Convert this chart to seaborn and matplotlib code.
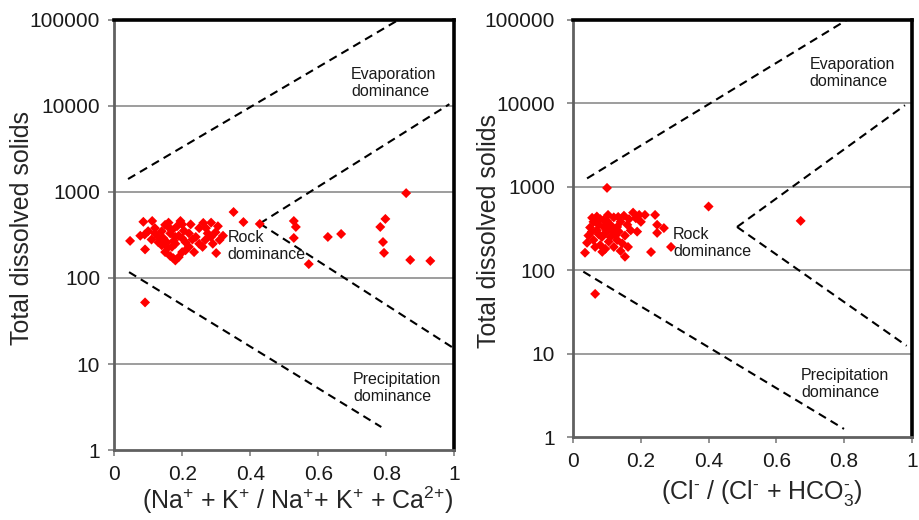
import matplotlib
matplotlib.use('Agg')
import matplotlib.pyplot as plt
from matplotlib.ticker import FixedLocator, FixedFormatter
import seaborn as sns
import numpy as np
import pandas as pd

# ----------------------------------------------------------------------------
# data
# ----------------------------------------------------------------------------
# left panel: Na+K / (Na+K+Ca) ratio vs TDS
cation_ratio = [0.047, 0.077, 0.086, 0.112, 0.091, 0.10, 0.12, 0.13, 0.15, 0.16,
                0.165, 0.17, 0.175, 0.18, 0.185, 0.19, 0.195, 0.20, 0.205, 0.21,
                0.22, 0.225, 0.235, 0.24, 0.25, 0.262, 0.268, 0.275, 0.285, 0.298,
                0.30, 0.31, 0.305, 0.14, 0.15, 0.158, 0.165, 0.174, 0.18, 0.19,
                0.20, 0.21, 0.22, 0.13, 0.11, 0.12, 0.145, 0.155, 0.17, 0.25,
                0.26, 0.285, 0.23, 0.09, 0.14, 0.16, 0.18, 0.20, 0.27, 0.29,
                0.32, 0.091, 0.351, 0.38, 0.428, 0.528, 0.534, 0.528, 0.572, 0.628,
                0.667, 0.797, 0.782, 0.79, 0.793, 0.858, 0.87, 0.929]
cation_tds = [270, 310, 450, 460, 215, 350, 380, 300, 415, 440,
              330, 360, 270, 250, 400, 310, 460, 290, 355, 260,
              330, 420, 200, 300, 380, 437, 277, 330, 440, 340,
              195, 277, 400, 240, 200, 225, 180, 170, 160, 175,
              200, 210, 230, 260, 280, 330, 290, 260, 230, 250,
              230, 300, 280, 320, 350, 390, 300, 420, 380, 250,
              310, 52, 585, 447, 425, 460, 392, 292, 145, 300,
              325, 486, 392, 262, 196, 970, 162, 158]

# right panel: Cl / (Cl + HCO3) ratio vs TDS
anion_ratio = [0.10, 0.065, 0.40, 0.672, 0.289, 0.23, 0.242, 0.212, 0.248, 0.268,
               0.248, 0.153, 0.162, 0.153, 0.189, 0.177, 0.133, 0.103, 0.035, 0.041,
               0.056, 0.05, 0.045, 0.086, 0.12, 0.06, 0.07, 0.075, 0.08, 0.085,
               0.09, 0.095, 0.10, 0.105, 0.11, 0.115, 0.12, 0.125, 0.13, 0.14,
               0.145, 0.15, 0.16, 0.165, 0.17, 0.06, 0.065, 0.07, 0.08, 0.09,
               0.10, 0.11, 0.135, 0.185, 0.195, 0.20, 0.055, 0.075, 0.095, 0.14,
               0.13, 0.105]
anion_tds = [970, 52, 580, 390, 190, 165, 460, 460, 350, 320,
             280, 145, 190, 260, 290, 490, 435, 460, 162, 213,
             425, 325, 260, 166, 190, 380, 300, 350, 410, 250,
             330, 280, 390, 220, 350, 300, 430, 260, 330, 380,
             210, 450, 350, 410, 300, 230, 190, 440, 200, 400,
             300, 250, 290, 420, 460, 380, 290, 270, 180, 170,
             230, 340]

# Gibbs boundary lines (x pairs, y pairs)
left_bounds_x = [[0.041, 0.835], [0.428, 0.985], [0.428, 0.995], [0.044, 0.785]]
left_bounds_y = [[1415, 100000], [430, 10500], [430, 15.5], [117, 1.85]]
right_bounds_x = [[0.041, 0.808], [0.484, 0.98], [0.484, 0.985], [0.03, 0.80]]
right_bounds_y = [[1260, 100000], [330, 9500], [330, 12.4], [96, 1.25]]

zone_labels = ['Evaporation\ndominance', 'Rock\ndominance', 'Precipitation\ndominance']
left_label_pos = [(0.696, 18600), (0.333, 234), (0.702, 5.25)]
right_label_pos = [(0.699, 23000), (0.295, 210), (0.673, 4.36)]

y_ticks = [1, 10, 100, 1000, 10000, 100000]
y_ticklabels = ['1', '10', '100', '1000', '10000', '100000']
x_ticks = [0, 0.2, 0.4, 0.6, 0.8, 1.0]
x_ticklabels = ['0', '0.2', '0.4', '0.6', '0.8', '1']

left_xlabel = r'(Na$^{\text{+}}$ + K$^{\text{+}}$ / Na$^{\text{+}}$+ K$^{\text{+}}$ + Ca$^{\text{2+}}$)'
right_xlabel = r'(Cl$^{\text{-}}$ / (Cl$^{\text{-}}$ + HCO$^{\text{-}}_{\text{3}}$)'
ylabel = 'Total dissolved solids'

# ----------------------------------------------------------------------------
# plotting
# ----------------------------------------------------------------------------
sns.set_style('white')
plt.rcParams['font.family'] = ['Liberation Sans', 'DejaVu Sans']
plt.rcParams['mathtext.fontset'] = 'custom'
plt.rcParams['mathtext.rm'] = 'Liberation Sans'
plt.rcParams['mathtext.it'] = 'Liberation Sans:italic'
plt.rcParams['mathtext.bf'] = 'Liberation Sans:bold'

fig = plt.figure(figsize=(9.2, 5.2), dpi=100)
ax1 = fig.add_axes([0.124, 0.1346, 0.370, 0.827])
ax2 = fig.add_axes([0.623, 0.1596, 0.368, 0.802])

# axis, x, y, bound x, bound y, zone label pos, xlabel, ytick pad,
# xlabel coords, ylabel coords
panels = [
    (ax1, cation_ratio, cation_tds, left_bounds_x, left_bounds_y, left_label_pos,
     left_xlabel, 6, (0.54, -0.08), (-0.235, 0.516)),
    (ax2, anion_ratio, anion_tds, right_bounds_x, right_bounds_y, right_label_pos,
     right_xlabel, 9, (0.558, -0.098), (-0.212, 0.494)),
]

for ax, xs, ys, bx, by, lpos, xlab, ypad, xlc, ylc in panels:
    df = pd.DataFrame({'ratio': xs, 'tds': ys})
    ax.set_yscale('log')
    ax.set_xlim(0, 1)
    ax.set_ylim(1, 100000)

    # horizontal gridlines at decades
    for yv in y_ticks[1:-1]:
        ax.axhline(yv, color='#8c8c8c', lw=1.2, zorder=1)

    for xx, yy in zip(bx, by):
        ax.plot(xx, yy, color='black', lw=1.5, ls=(0, (4, 2.6)), zorder=2)

    sns.scatterplot(data=df, x='ratio', y='tds', ax=ax, marker='D', s=26,
                    color='#ff0000', edgecolor='none', linewidth=0, zorder=3)

    for txt, (tx, ty) in zip(zone_labels, lpos):
        ax.text(tx, ty, txt, ha='left', va='center', fontsize=11.5,
                color='#1a1a1a', linespacing=1.15)

    ax.yaxis.set_major_locator(FixedLocator(y_ticks))
    ax.yaxis.set_major_formatter(FixedFormatter(y_ticklabels))
    ax.yaxis.set_minor_locator(FixedLocator([]))
    ax.set_xticks(x_ticks)
    ax.set_xticklabels(x_ticklabels)

    ax.tick_params(axis='both', which='major', direction='out', length=4,
                   width=1.2, color='#808080', labelsize=15, labelcolor='#1a1a1a',
                   left=True, bottom=True)
    ax.tick_params(axis='y', pad=ypad)
    ax.tick_params(axis='x', pad=7)

    for side in ['left', 'bottom']:
        ax.spines[side].set_color('#606060')
        ax.spines[side].set_linewidth(2.0)
    for side in ['top', 'right']:
        ax.spines[side].set_color('black')
        ax.spines[side].set_linewidth(2.6)

    ax.set_xlabel(xlab, fontsize=18)
    ax.set_ylabel(ylabel, fontsize=18)
    ax.xaxis.set_label_coords(*xlc)
    ax.yaxis.set_label_coords(*ylc)

fig.savefig('out.png', dpi=100)
